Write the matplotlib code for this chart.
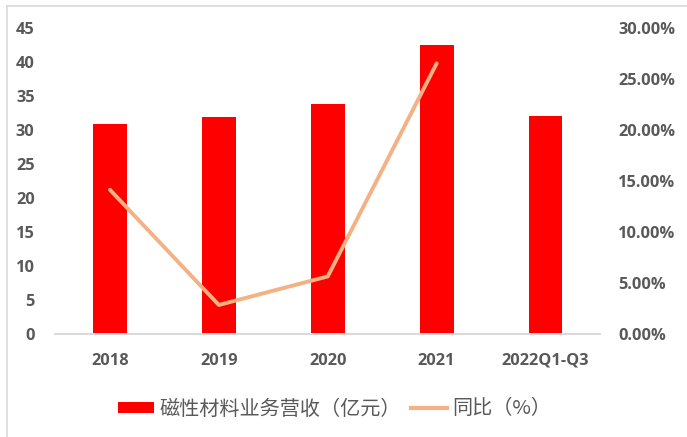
import matplotlib
matplotlib.use("Agg")
import matplotlib.pyplot as plt
from matplotlib.lines import Line2D
from matplotlib.patches import Patch
import numpy as np

categories = ["2018", "2019", "2020", "2021", "2022Q1-Q3"]
revenue = [30.9, 31.9, 33.7, 42.5, 32.0]          # 亿元
yoy = [14.1, 2.8, 5.6, 26.5]                       # %, 2018-2021
left_ticks = [0, 5, 10, 15, 20, 25, 30, 35, 40, 45]
right_ticks = [0, 5, 10, 15, 20, 25, 30]

bar_color = "#FF0000"
line_color = "#F4B183"
text_color = "#595959"

plt.rcParams["font.family"] = ["Noto Sans CJK SC", "DejaVu Sans"]

fig = plt.figure(figsize=(6.87, 4.37), dpi=100)
W, H = 687, 437
ax = fig.add_axes([55.5 / W, 1 - 333.5 / H, (600 - 55.5) / W, (333.5 - 27.7) / H])
ax2 = ax.twinx()

x = np.arange(len(categories))
ax.bar(x, revenue, width=0.31, color=bar_color, zorder=2)
ax2.plot(x[:len(yoy)], yoy, color=line_color, lw=2.8, solid_capstyle="round", zorder=3)

ax.set_xlim(-0.5, len(categories) - 0.5)
ax.set_ylim(0, 45)
ax2.set_ylim(0, 30)
ax.set_yticks(left_ticks)
ax2.set_yticks(right_ticks)
ax2.set_yticklabels([f"{v:.2f}%" for v in right_ticks])
ax.set_xticks(x)
ax.set_xticklabels(categories)

for a in (ax, ax2):
    for s in ("top", "left", "right"):
        a.spines[s].set_visible(False)
    a.spines["bottom"].set_color("#D9D9D9")
    a.spines["bottom"].set_linewidth(1.2)
    a.tick_params(length=0, labelsize=11.8, labelcolor=text_color)

for lab in ax.get_yticklabels() + ax2.get_yticklabels() + ax.get_xticklabels():
    lab.set_fontfamily(["Open Sans", "DejaVu Sans"])
    lab.set_fontweight("bold")

ax.tick_params(axis="y", pad=15)
ax2.tick_params(axis="y", pad=13)
ax.tick_params(axis="x", pad=14)

handles = [Patch(facecolor=bar_color, edgecolor="none"),
           Line2D([0], [0], color=line_color, lw=3)]
leg = fig.legend(handles, ["磁性材料业务营收（亿元）", "同比（%）"],
                 loc="center", bbox_to_anchor=(335 / W, 1 - 409 / H), ncol=2,
                 frameon=False, fontsize=14.5, handlelength=1.75, handleheight=0.5,
                 handletextpad=0.3, columnspacing=0.5, labelcolor=text_color)

# light frame on the left and top edges
fig.add_artist(Line2D([6.5 / W, 6.5 / W], [0, 1 - 6 / H], color="#D9D9D9", lw=1.2,
                      transform=fig.transFigure))
fig.add_artist(Line2D([6.5 / W, 1], [1 - 6 / H, 1 - 6 / H], color="#D9D9D9", lw=1.2,
                      transform=fig.transFigure))

fig.savefig("out.png", dpi=100)
